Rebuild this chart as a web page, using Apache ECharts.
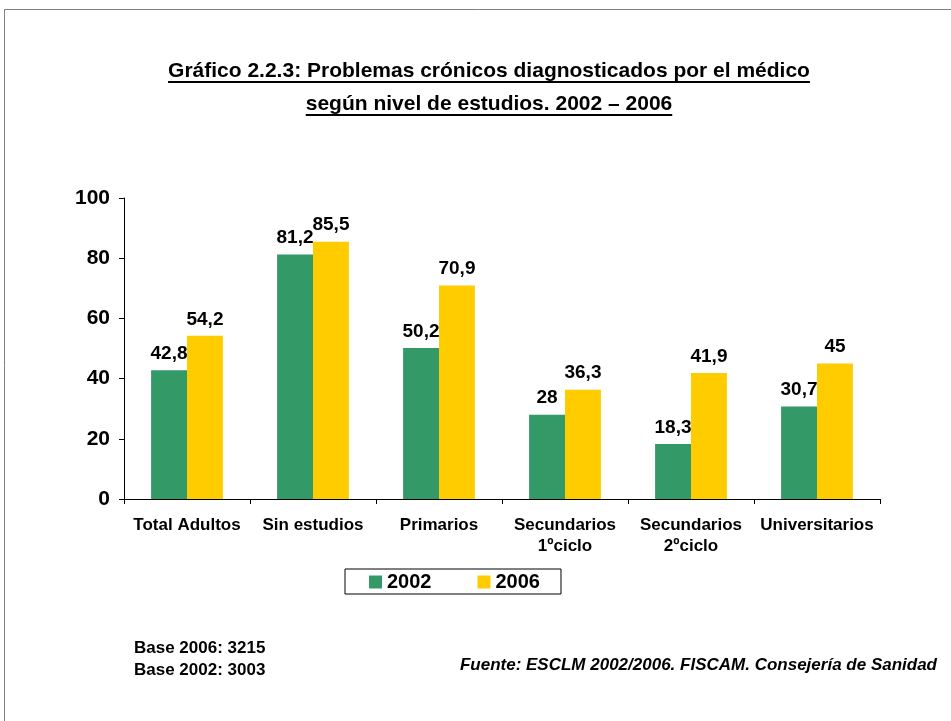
<!DOCTYPE html>
<html>
<head>
<meta charset="utf-8">
<script src="https://cdn.jsdelivr.net/npm/echarts@6/dist/echarts.min.js"></script>
<style>
  html, body { margin: 0; padding: 0; background: #fff; }
  #chart { width: 951px; height: 721px; }
</style>
</head>
<body>
<div id="chart"></div>
<script>
// datos
const categories = ['Total Adultos', 'Sin estudios', 'Primarios', 'Secundarios\n1ºciclo', 'Secundarios\n2ºciclo', 'Universitarios']
const serieNames = ['2002', '2006']
const values2002 = [42.8, 81.2, 50.2, 28, 18.3, 30.7]
const values2006 = [54.2, 85.5, 70.9, 36.3, 41.9, 45]
const yTicks = [0, 20, 40, 60, 80, 100]

const titleLines = [
  'Gráfico 2.2.3: Problemas crónicos diagnosticados por el médico',
  'según nivel de estudios. 2002 – 2006'
]
const baseLines = ['Base 2006: 3215', 'Base 2002: 3003']
const fuente = 'Fuente: ESCLM 2002/2006. FISCAM. Consejería de Sanidad'

const FONT = '"Liberation Sans", Arial, sans-serif'
const colors = ['#339966', '#ffcc00']

// medir el título para poder subrayarlo
const ctx = document.createElement('canvas').getContext('2d')
const titleFont = 'bold 21px ' + FONT
ctx.font = titleFont
const titleCenter = 489
const titleY = [71, 104]

const graphic = [
  {
    type: 'rect',
    shape: { x: 4.5, y: 9.5, width: 1000, height: 1000 },
    style: { fill: null, stroke: '#808080', lineWidth: 1 },
    silent: true
  }
]
titleLines.forEach(function(t, i) {
  const w = ctx.measureText(t).width
  graphic.push({
    type: 'text',
    style: { text: t, x: titleCenter, y: titleY[i], font: titleFont, fill: '#000', align: 'center', verticalAlign: 'middle' }
  })
  graphic.push({
    type: 'line',
    shape: { x1: titleCenter - w / 2, y1: titleY[i] + 11, x2: titleCenter + w / 2, y2: titleY[i] + 11 },
    style: { stroke: '#000', lineWidth: 2 }
  })
})
graphic.push({
  type: 'text',
  style: { text: baseLines.join('\n'), x: 134, y: 637, font: 'bold 17px ' + FONT, lineHeight: 22, fill: '#000' }
})
graphic.push({
  type: 'text',
  style: { text: fuente, x: 937, y: 665, font: 'italic bold 17px ' + FONT, fill: '#000', align: 'right', verticalAlign: 'middle' }
})

const labelFmt = function(p) {
  return String(p.value).replace('.', ',')
}

const chart = echarts.init(document.getElementById('chart'))
const option = {
  backgroundColor: '#fff',
  color: colors,
  animation: false,
  textStyle: { fontFamily: FONT },
  graphic: graphic,
  legend: {
    data: serieNames,
    left: 345,
    top: 569,
    padding: [3, 21, 2, 24],
    borderColor: '#000',
    borderWidth: 1,
    icon: 'rect',
    itemWidth: 13,
    itemHeight: 13,
    itemGap: 46,
    textStyle: { fontSize: 20, fontWeight: 'bold', color: '#000', padding: [0, 0, 0, 0] }
  },
  grid: { left: 124, right: 71, top: 198, bottom: 222 },
  xAxis: {
    type: 'category',
    data: categories,
    axisLine: { lineStyle: { color: '#000', width: 1 } },
    axisTick: { show: true, length: 5, lineStyle: { color: '#000' } },
    axisLabel: { fontSize: 17, fontWeight: 'bold', color: '#000', margin: 16, lineHeight: 21, interval: 0 }
  },
  yAxis: {
    type: 'value',
    min: yTicks[0],
    max: yTicks[yTicks.length - 1],
    interval: yTicks[1] - yTicks[0],
    axisLine: { show: true, lineStyle: { color: '#000', width: 1 } },
    axisTick: { show: true, length: 5, lineStyle: { color: '#000' } },
    splitLine: { show: false },
    axisLabel: { fontSize: 21, fontWeight: 'bold', color: '#000', margin: 14 }
  },
  series: [
    {
      name: serieNames[0],
      type: 'bar',
      data: values2002,
      barGap: '0%',
      barCategoryGap: '43%',
      label: { show: true, position: 'top', distance: 7, formatter: labelFmt, fontSize: 19, fontWeight: 'bold', color: '#000' }
    },
    {
      name: serieNames[1],
      type: 'bar',
      data: values2006,
      barGap: '0%',
      barCategoryGap: '43%',
      label: { show: true, position: 'top', distance: 7, formatter: labelFmt, fontSize: 19, fontWeight: 'bold', color: '#000' }
    }
  ]
}
chart.setOption(option)
</script>
</body>
</html>
